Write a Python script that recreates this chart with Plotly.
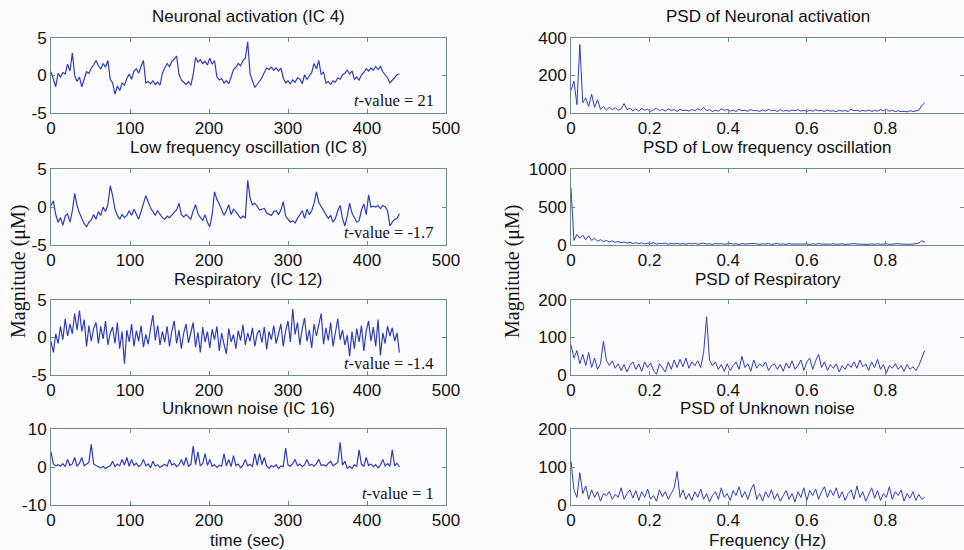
import numpy as np
import plotly.graph_objects as go

# ---------------- data ----------------
DT = 3.0      # seconds between the values below
DF = 0.0075   # Hz between the PSD values below

neuronal = [0.5, -0.5, -1.5, 0.3, -0.2, 0.4, 0.2, 1.5, 0.6, 3.0, 0.0, -0.8, -0.2, -1.5, -0.6, 0.5,
            0.3, 1.0, 1.4, 2.0, 1.3, 0.9, 1.6, 1.1, 2.0, -0.5, -1.0, -2.5, -1.4, -2.0, -1.0, -1.3,
            -0.4, 0.2, -0.5, 0.6, 0.9, 0.3, 1.2, 2.0, -1.0, -0.8, -1.1, -0.7, -1.2, -0.9, -1.3, 0.3,
            1.0, 1.6, 1.2, 1.9, 2.2, 2.6, 0.2, -0.6, -0.9, -1.2, -0.8, -1.3, 0.1, 2.4, 1.8, 2.1,
            1.6, 1.9, 1.4, 2.3, 1.5, 2.0, -0.2, -0.6, -0.4, -1.0, -0.7, -1.1, -0.2, 0.8, 1.1, 1.6,
            1.3, 2.0, 2.3, 4.5, 0.2, -0.6, -1.6, -1.2, -0.7, -0.3, 0.4, 1.0, 0.8, 1.1, 0.7, 1.0,
            0.6, 1.0, -0.3, -1.0, -0.7, -1.1, -0.6, -0.9, -0.3, -0.5, -1.1, 0.1, -0.5, 0.0, 0.4, 1.6,
            0.9, 2.0, 0.1, 0.5, -1.0, -0.8, -1.2, -0.7, -0.9, -0.3, -0.5, 0.1, 0.3, 0.7, 0.2, 0.6,
            -0.5, -0.2, -0.6, 0.1, 0.4, 0.9, 0.6, 1.0, 0.7, 1.2, 0.8, 1.2, 0.5, 0.1, -0.3, -1.0,
            -0.6, -0.3, 0.1, 0.2]

low_freq = [0.2, 0.8, -1.0, -2.0, -1.4, -2.4, -1.2, -0.9, -2.0, -0.5, 1.8, 0.2, -0.8, -1.5, -2.2, -2.6,
            -2.0, -1.7, -1.0, -1.6, -0.6, -1.1, 0.0, -0.6, 0.3, 2.8, 1.5, -0.3, -1.1, -1.6, -1.0, -1.4,
            -1.1, -0.5, -1.1, -0.3, -1.0, -1.6, -0.6, 0.5, 1.5, 0.7, -0.1, -0.6, -1.1, -0.5, -1.0, -1.4,
            -1.6, -1.2, -1.4, -1.0, -0.7, -0.4, 0.5, -1.0, -1.3, -1.0, -1.3, -1.6, -0.5, 0.3, -0.9, -1.4,
            -1.8, -1.0, -2.0, -2.6, -1.0, 2.0, 1.0, 0.4, -0.5, -1.1, -0.5, 0.3, -1.0, -0.3, -0.6, -1.0,
            -1.5, -1.2, -1.4, 3.5, 1.2, 0.3, 0.5, 0.1, -0.4, -0.3, -0.2, -0.8, -0.9, -1.1, -0.6, -0.5,
            -1.0, -0.4, 0.7, -1.2, -1.6, -2.0, -1.8, -2.1, -1.5, -1.0, -0.5, -1.5, -0.3, -1.0, -0.5, 0.5,
            2.0, 0.6, 0.0, -0.5, -1.0, -1.5, -1.1, -2.0, -1.5, -0.5, 0.2, -1.5, -2.5, -1.2, 0.5, -0.8,
            -1.4, -2.0, -1.8, -0.4, 0.4, -1.0, 1.6, 0.0, 0.1, 0.0, 0.2, -0.2, 0.2, 0.0, -0.5, -2.5,
            -2.0, -1.6, -1.5, -0.9]

respiratory = [-0.5, -2.0, 0.5, -0.8, 1.5, -0.3, 2.5, 0.2, 1.8, 0.5, 3.2, 1.0, 3.6, 0.8, 2.4, -1.2,
               1.6, -0.5, 1.2, 2.0, -0.8, 1.5, -0.2, 2.2, -1.0, 0.6, 1.4, -0.8, 2.0, -1.5, 0.8, -3.5,
               1.0, -0.6, 1.8, -1.2, 0.9, -0.5, 1.6, -1.3, 0.4, -0.9, 1.2, 3.0, -0.4, 1.6, -1.0, 0.8,
               -0.6, 1.5, -1.2, 0.9, 2.2, -0.8, 1.0, -1.5, 0.6, 1.8, -0.7, 0.5, 2.0, -1.3, 0.7, -2.0,
               1.4, -0.6, 0.8, -1.4, 1.1, -0.3, 1.5, -1.8, 0.6, -0.9, -2.2, 1.2, -0.6, 0.4, -1.5, 0.9,
               -0.4, 1.7, -1.0, 0.6, -0.5, 1.3, -1.2, 0.5, 1.0, -0.7, 1.4, -1.6, 0.8, -0.3, 1.6, -0.8,
               0.5, 1.8, -1.2, 0.9, 2.2, -0.6, 3.8, 0.4, 2.0, -1.0, 1.2, 2.6, -0.5, 1.0, -1.4, 1.8,
               0.2, 1.5, 3.2, -0.9, 1.3, -0.4, 2.0, -1.2, 0.8, 2.5, -0.3, 1.0, -1.0, 0.3, -2.5, 0.8,
               -1.5, 1.2, -0.6, 1.6, -1.8, 0.9, 2.2, -0.5, 1.4, -1.2, 2.4, -2.4, 0.6, -0.8, 1.5, 0.2,
               1.3, -0.5, 0.6, -2.0]

unknown = [4.0, 0.8, 0.3, 0.6, 0.2, 0.9, 0.1, 2.0, 0.4, 0.8, 2.5, 0.2, 1.0, 2.5, 0.3, 0.7,
           1.2, 6.0, 0.8, 0.4, 0.1, -0.3, 0.2, -0.4, 0.0, 0.3, 1.5, 0.1, 0.8, 0.3, 2.0, 0.5,
           2.5, 0.2, 2.0, 0.4, 1.0, 0.1, 0.6, 2.0, 0.3, 0.8, -0.2, 1.5, 0.2, 0.6, -0.1, 0.4,
           0.7, 0.2, 2.0, 0.5, 0.9, 0.1, 0.6, 2.0, 0.4, 2.5, 0.2, 0.7, 5.5, 0.6, 4.0, 0.3,
           0.9, 3.5, 0.4, 2.0, 0.2, 0.6, -0.1, 0.5, 0.2, 3.5, 0.3, 2.0, 0.1, 3.0, 0.4, 0.8,
           -0.2, 0.5, 2.0, 0.3, 0.7, 0.1, 3.5, 0.4, 3.5, 0.6, 2.5, 0.2, -0.3, 0.4, 0.0, 0.6,
           -0.4, 0.3, 0.1, 5.0, 0.5, 0.2, 0.9, 2.0, 0.3, 0.8, 0.1, 0.6, 2.0, 0.4, 0.7, 0.2,
           0.9, 2.0, 0.4, 0.6, 0.2, 1.0, 1.5, 0.3, 0.8, 1.2, 6.5, 0.5, 1.5, -0.3, 0.2, -0.4,
           0.6, 0.1, 4.5, 0.7, 0.2, 2.5, 0.4, 0.8, 0.1, 0.6, -0.2, 0.5, 2.0, 0.3, 0.9, 0.2,
           4.5, 0.3, 1.0, 0.0]

psd_neuronal = [120, 170, 45, 365, 55, 80, 35, 100, 30, 70, 20, 35, 15, 30, 18, 28,
                15, 22, 50, 18, 25, 12, 22, 10, 25, 15, 20, 8, 18, 25, 12, 20,
                10, 22, 14, 18, 8, 20, 12, 16, 10, 18, 12, 22, 15, 30, 12, 18,
                8, 15, 10, 22, 14, 18, 10, 16, 8, 20, 12, 15, 9, 18, 12, 14,
                8, 16, 10, 20, 12, 15, 8, 18, 10, 14, 9, 16, 12, 18, 10, 14,
                8, 15, 10, 18, 12, 14, 8, 16, 10, 12, 7, 15, 10, 13, 8, 20,
                12, 15, 9, 14, 10, 16, 8, 14, 10, 18, 12, 20, 9, 15, 8, 12,
                7, 10, 6, 12, 8, 10, 15, 40, 55]

psd_low_freq = [750, 60, 140, 90, 130, 70, 120, 60, 90, 50, 70, 45, 60, 40, 55, 35,
                45, 30, 40, 25, 35, 20, 30, 18, 28, 15, 25, 20, 30, 12, 22, 18,
                25, 10, 20, 15, 22, 12, 18, 10, 20, 15, 22, 10, 18, 25, 12, 16,
                8, 20, 14, 18, 10, 15, 22, 12, 16, 8, 18, 12, 15, 10, 20, 14,
                8, 16, 12, 18, 9, 14, 20, 10, 15, 8, 18, 12, 14, 9, 16, 10,
                13, 8, 15, 10, 18, 12, 8, 14, 10, 16, 9, 12, 15, 8, 14, 10,
                18, 12, 9, 15, 11, 8, 14, 10, 16, 9, 12, 15, 8, 13, 10, 18,
                12, 9, 14, 10, 12, 15, 25, 55, 40]

psd_respiratory = [80, 45, 65, 30, 55, 25, 60, 20, 45, 15, 30, 90, 40, 25, 38, 18,
                   30, 12, 28, 8, 25, 35, 15, 30, 10, 35, 20, 32, 12, 2, 30, 18,
                   8, 35, 15, 40, 20, 42, 22, 45, 18, 35, 25, 38, 20, 60, 155, 40,
                   25, 35, 15, 28, 10, 30, 12, 25, 35, 15, 50, 20, 30, 10, 40, 18,
                   30, 22, 35, 12, 25, 30, 15, 28, 10, 32, 18, 38, 15, 25, 40, 12,
                   35, 45, 15, 38, 55, 20, 35, 12, 28, 18, 30, 8, 25, 15, 30, 20,
                   35, 18, 40, 22, 30, 12, 35, 20, 42, 15, 28, 5, 25, 18, 30, 15,
                   25, 10, 28, 15, 22, 12, 25, 45, 65]

psd_unknown = [115, 40, 20, 85, 30, 50, 15, 40, 20, 35, 10, 30, 25, 35, 15, 28,
               20, 45, 15, 30, 40, 18, 38, 12, 35, 20, 42, 15, 25, 10, 40, 22,
               35, 15, 30, 45, 88, 20, 40, 15, 30, 12, 35, 20, 42, 15, 30, 8,
               25, 35, 15, 45, 20, 30, 12, 38, 25, 48, 20, 35, 15, 40, 55, 15,
               30, 10, 35, 20, 40, 15, 30, 10, 25, 38, 15, 30, 8, 35, 20, 45,
               12, 38, 25, 42, 15, 35, 48, 20, 40, 25, 45, 18, 35, 12, 30, 40,
               15, 50, 20, 35, 10, 30, 45, 18, 38, 12, 30, 20, 48, 15, 35, 25,
               40, 10, 30, 18, 35, 12, 28, 15, 20]

left_titles = ["Neuronal activation (IC 4)", "Low frequency oscillation (IC 8)",
               "Respiratory  (IC 12)", "Unknown noise (IC 16)"]
right_titles = ["PSD of Neuronal activation", "PSD of Low frequency oscillation",
                "PSD of Respiratory", "PSD of Unknown noise"]
t_values = ["21", "-1.7", "-1.4", "1"]
left_ranges = [(-5, 5), (-5, 5), (-5, 5), (-10, 10)]
left_ticks = [[-5, 0, 5], [-5, 0, 5], [-5, 0, 5], [-10, 0, 10]]
right_ranges = [(0, 400), (0, 1000), (0, 200), (0, 200)]
right_ticks = [[0, 200, 400], [0, 500, 1000], [0, 100, 200], [0, 100, 200]]
time_ticks = [0, 100, 200, 300, 400, 500]
freq_ticks = [0, 0.2, 0.4, 0.6, 0.8, 1]
freq_ticktext = ["0", "0.2", "0.4", "0.6", "0.8", "1"]

series_left = [neuronal, low_freq, respiratory, unknown]
series_right = [psd_neuronal, psd_low_freq, psd_respiratory, psd_unknown]

# ---------------- layout geometry ----------------
W, H = 964, 550
rows_px = [(38, 113), (169, 245), (300, 375), (429, 505)]  # top, bottom in px
left_x = (51 / W, 446 / W)
right_x = (571 / W, 1.0)

LINE = "#2f3db5"
AXC = "#6e8c8c"
TXT = "#111111"
SANS = "Liberation Sans, Arial, sans-serif"
SERIF = "Liberation Serif, Times New Roman, serif"

fig = go.Figure()
layout = dict(width=W, height=H, margin=dict(l=0, r=0, t=0, b=0), autosize=False,
              paper_bgcolor="#fbfbfc", plot_bgcolor="#fcfcfe", showlegend=False)
annotations = []


def axis_common():
    return dict(showline=True, linecolor=AXC, linewidth=1, mirror="ticks", ticks="inside",
                ticklen=4, tickcolor=AXC, showgrid=False, zeroline=False, automargin=False,
                tickfont=dict(family=SANS, size=17, color=TXT))


def ann(x, y, text, font, **kw):
    d = dict(x=x / W, y=1 - y / H, xref="paper", yref="paper", text=text, showarrow=False,
             font=font, xanchor="center", yanchor="middle")
    d.update(kw)
    return d


for i in range(4):
    top, bot = rows_px[i]
    ydom = [1 - bot / H, 1 - top / H]
    # left column
    n = 2 * i + 1
    xs = f"x{n}" if n > 1 else "x"
    ys = f"y{n}" if n > 1 else "y"
    v = series_left[i]
    t = np.arange(len(v)) * DT
    fig.add_trace(go.Scatter(x=t, y=v, mode="lines", line=dict(color=LINE, width=1.2),
                             xaxis=xs, yaxis=ys, hoverinfo="skip"))
    xa = axis_common()
    xa.update(domain=list(left_x), range=[0, 500], tickvals=time_ticks,
              ticktext=[str(k) for k in time_ticks], anchor=ys)
    ya = axis_common()
    ya.update(domain=ydom, range=list(left_ranges[i]), tickvals=left_ticks[i],
              ticktext=[str(k) for k in left_ticks[i]], anchor=xs)
    layout["xaxis" if n == 1 else f"xaxis{n}"] = xa
    layout["yaxis" if n == 1 else f"yaxis{n}"] = ya
    annotations.append(ann((51 + 446) / 2, top - 21, left_titles[i],
                           dict(family=SANS, size=17, color=TXT)))
    annotations.append(ann(436, bot - 12, f"<i>t</i>-value = {t_values[i]}",
                           dict(family=SERIF, size=16.5, color=TXT), xanchor="right"))
    # right column
    m = 2 * i + 2
    xs2, ys2 = f"x{m}", f"y{m}"
    p = series_right[i]
    f = np.arange(len(p)) * DF
    fig.add_trace(go.Scatter(x=f, y=p, mode="lines", line=dict(color=LINE, width=1),
                             xaxis=xs2, yaxis=ys2, hoverinfo="skip"))
    xa = axis_common()
    xa.update(domain=list(right_x), range=[0, 1], tickvals=freq_ticks, ticktext=freq_ticktext,
              anchor=ys2)
    ya = axis_common()
    ya.update(domain=ydom, range=list(right_ranges[i]), tickvals=right_ticks[i],
              ticktext=[str(k) for k in right_ticks[i]], anchor=xs2)
    layout[f"xaxis{m}"] = xa
    layout[f"yaxis{m}"] = ya
    annotations.append(ann((571 + 964) / 2, top - 21, right_titles[i],
                           dict(family=SANS, size=17, color=TXT)))

# axis titles
annotations.append(ann(248, 540, "time (sec)", dict(family=SANS, size=17, color=TXT)))
annotations.append(ann(767, 540, "Frequency (Hz)", dict(family=SANS, size=17, color=TXT)))
for xx in (18, 512):
    annotations.append(ann(xx, 272, "Magnitude (μM)", dict(family=SERIF, size=20, color=TXT),
                           textangle=-90))

layout["annotations"] = annotations
fig.update_layout(**layout)
fig.write_html("out.html")
